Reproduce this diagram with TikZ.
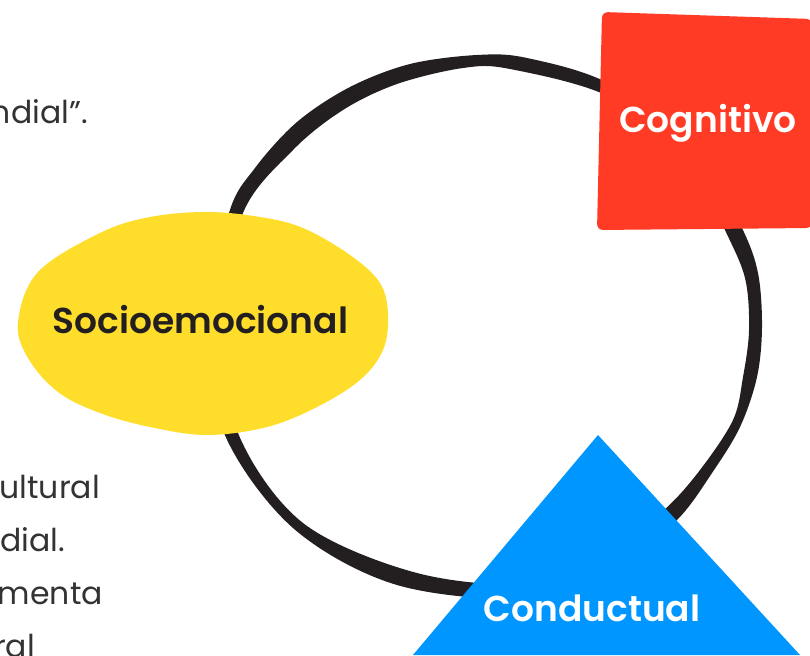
\documentclass[tikz,border=0pt]{standalone}
\usepackage{fontspec}
\setmainfont{Poppins}
\newfontfamily\semif{Poppins SemiBold}
\definecolor{ringc}{HTML}{231F20}
\definecolor{redc}{HTML}{FF3B25}
\definecolor{yelc}{HTML}{FFDD2B}
\definecolor{bluc}{HTML}{0096FF}
\definecolor{txtc}{HTML}{333333}
\tikzset{
 lbl/.style={font=\semif\fontsize{36}{40}\selectfont,inner sep=0pt,anchor=base},
 para/.style={font=\fontsize{31.5}{34}\selectfont,text=txtc,inner sep=0pt,anchor=base east}
}
\begin{document}
\begin{tikzpicture}[x=1pt,y=-1pt]
\useasboundingbox (0,0) rectangle (810,655);
\fill[white] (0,0) rectangle (810,655);
\fill[ringc,even odd rule]
 plot[smooth cycle,tension=0.55] coordinates {(229,213) (255,168) (297,122) (350,87) (410,64) (477,55) (527,58) (610,84) (700,150) (742,228) (758,273) (762,327) (757,377) (740,427) (712,473) (677,520) (620,565) (530,598) (397,585) (293,528) (224,433) (208,325)}
 plot[smooth cycle,tension=0.55] coordinates {(243,213) (293,150) (343,110) (397,84) (463,68) (510,69) (610,97) (690,160) (724,228) (745,278) (749,330) (743,377) (733,420) (700,470) (664,510) (610,550) (530,583) (417,573) (303,523) (238,433) (222,325)};
\fill[redc,rounded corners=6pt] (602,12) -- (812,19) -- (812,228) -- (597,230) -- cycle;
\fill[yelc] plot[smooth cycle,tension=0.6] coordinates {(18,322) (38,272) (100,233) (150,217) (207,212) (260,217) (303,228) (350,255) (380,283) (388,315) (383,350) (360,380) (317,407) (267,427) (207,435) (150,427) (100,413) (58,392) (28,358)};
\fill[bluc] (598,435) -- (800,655) -- (413,655) -- cycle;
\node[lbl,text=white] (cog) at (708,133) {Cognitivo};
\node[lbl,text=ringc] (soc) at (200.5,333) {Socioemocional};
\node[lbl,text=white] (con) at (592,621) {Conductual};
\node[para] (t1) at (88,124) {ndial”.};
\node[para] (t2) at (100,498) {ultural};
\node[para] (t3) at (65,551) {dial.};
\node[para] (t4) at (103,604) {menta};
\node[para] (t5) at (35,657) {ral};
\end{tikzpicture}
\end{document}
